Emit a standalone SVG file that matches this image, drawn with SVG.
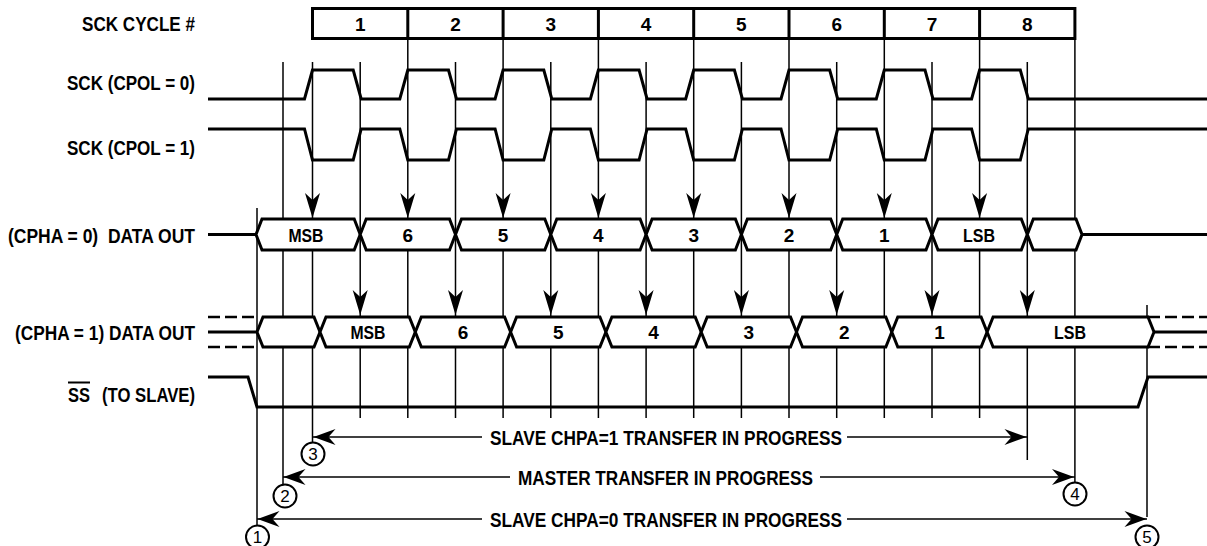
<svg xmlns="http://www.w3.org/2000/svg" xmlns:xlink="http://www.w3.org/1999/xlink" width="1207" height="546" viewBox="0 0 1207 546">
<defs>
<style>
.t{font-family:"Liberation Sans",Arial,sans-serif;font-weight:bold;font-size:20px;fill:#000}
.n{font-family:"Liberation Sans",Arial,sans-serif;font-weight:bold;font-size:19px;fill:#000;text-anchor:middle}
.c{font-family:"Liberation Sans",Arial,sans-serif;font-size:17px;fill:#000;text-anchor:middle}
.w{fill:none;stroke:#000;stroke-width:3;stroke-linejoin:miter}
.hx{fill:#fff;stroke:#000;stroke-width:3;stroke-linejoin:miter}
.d{fill:none;stroke:#000;stroke-width:2.5;stroke-dasharray:12 5}
.v{stroke:#000;stroke-width:1.5;fill:none}
.h{stroke:#000;stroke-width:1.4;fill:none}
.circ{fill:#fff;stroke:#000;stroke-width:2}
</style>
<path id="va" d="M0,0 L-7.5,-25 L0,-18 L7.5,-25 Z" fill="#000"/>
<path id="ha" d="M0,0 L-22,-8 L-15,0 L-22,8 Z" fill="#000"/>
</defs>
<rect width="1207" height="546" fill="#fff"/>

<g id="connectors">
<g id="timing-lines">
<line class="v" x1="257" y1="208" x2="257" y2="526"/>
<line class="v" x1="283" y1="62" x2="283" y2="485"/>
<line class="v" x1="312.5" y1="62" x2="312.5" y2="443"/>
<line class="v" x1="407.8" y1="38.5" x2="407.8" y2="418"/>
<line class="v" x1="503.1" y1="38.5" x2="503.1" y2="418"/>
<line class="v" x1="598.4" y1="38.5" x2="598.4" y2="418"/>
<line class="v" x1="693.7" y1="38.5" x2="693.7" y2="418"/>
<line class="v" x1="789" y1="38.5" x2="789" y2="418"/>
<line class="v" x1="884.3" y1="38.5" x2="884.3" y2="418"/>
<line class="v" x1="979.6" y1="38.5" x2="979.6" y2="418"/>
<line class="v" x1="1074.9" y1="38.5" x2="1074.9" y2="483"/>
<line class="v" x1="360.2" y1="62" x2="360.2" y2="418"/>
<line class="v" x1="455.5" y1="62" x2="455.5" y2="418"/>
<line class="v" x1="550.8" y1="62" x2="550.8" y2="418"/>
<line class="v" x1="646.1" y1="62" x2="646.1" y2="418"/>
<line class="v" x1="741.4" y1="62" x2="741.4" y2="418"/>
<line class="v" x1="836.7" y1="62" x2="836.7" y2="418"/>
<line class="v" x1="932" y1="62" x2="932" y2="418"/>
<line class="v" x1="1027.3" y1="62" x2="1027.3" y2="460"/>
<line class="v" x1="1147" y1="305" x2="1147" y2="517"/>
</g>
<g id="sample-arrows-cpha0">
<use xlink:href="#va" href="#va" transform="translate(312.5,218)"/>
<use xlink:href="#va" href="#va" transform="translate(407.8,218)"/>
<use xlink:href="#va" href="#va" transform="translate(503.1,218)"/>
<use xlink:href="#va" href="#va" transform="translate(598.4,218)"/>
<use xlink:href="#va" href="#va" transform="translate(693.7,218)"/>
<use xlink:href="#va" href="#va" transform="translate(789,218)"/>
<use xlink:href="#va" href="#va" transform="translate(884.3,218)"/>
<use xlink:href="#va" href="#va" transform="translate(979.6,218)"/>
</g>
<g id="sample-arrows-cpha1">
<use xlink:href="#va" href="#va" transform="translate(360.2,315)"/>
<use xlink:href="#va" href="#va" transform="translate(455.5,315)"/>
<use xlink:href="#va" href="#va" transform="translate(550.8,315)"/>
<use xlink:href="#va" href="#va" transform="translate(646.1,315)"/>
<use xlink:href="#va" href="#va" transform="translate(741.4,315)"/>
<use xlink:href="#va" href="#va" transform="translate(836.7,315)"/>
<use xlink:href="#va" href="#va" transform="translate(932,315)"/>
<use xlink:href="#va" href="#va" transform="translate(1027.3,315)"/>
</g>
<g id="span-slave-cpha1">
<line class="h" x1="313" y1="437" x2="482" y2="437"/>
<line class="h" x1="847" y1="437" x2="1027" y2="437"/>
<use xlink:href="#ha" href="#ha" transform="translate(313.5,437) scale(-1,1)"/>
<use xlink:href="#ha" href="#ha" transform="translate(1026.5,437)"/>
</g>
<g id="span-master">
<line class="h" x1="283" y1="477" x2="510" y2="477"/>
<line class="h" x1="820" y1="477" x2="1075" y2="477"/>
<use xlink:href="#ha" href="#ha" transform="translate(283.5,477) scale(-1,1)"/>
<use xlink:href="#ha" href="#ha" transform="translate(1074,477)"/>
</g>
<g id="span-slave-cpha0">
<line class="h" x1="257" y1="519" x2="482" y2="519"/>
<line class="h" x1="847" y1="519" x2="1147" y2="519"/>
<use xlink:href="#ha" href="#ha" transform="translate(257.5,519) scale(-1,1)"/>
<use xlink:href="#ha" href="#ha" transform="translate(1146.5,519)"/>
</g>
</g>

<g id="cycle-box">
<rect x="312.5" y="8.5" width="762.4" height="30" fill="none" stroke="#000" stroke-width="3"/>
<path d="M407.8,8.5V38.5M503.1,8.5V38.5M598.4,8.5V38.5M693.7,8.5V38.5M789,8.5V38.5M884.3,8.5V38.5M979.6,8.5V38.5" stroke="#000" stroke-width="3"/>
<text class="n" x="360.2" y="31">1</text>
<text class="n" x="455.5" y="31">2</text>
<text class="n" x="550.8" y="31">3</text>
<text class="n" x="646.1" y="31">4</text>
<text class="n" x="741.4" y="31">5</text>
<text class="n" x="836.7" y="31">6</text>
<text class="n" x="932" y="31">7</text>
<text class="n" x="1027.3" y="31">8</text>
</g>

<g id="sck-cpol0">
<path class="w" d="M208,99 H304.5 L312.5,70 H353.2 L361.2,99 H399.8 L407.8,70 H448.5 L456.5,99 H495.1 L503.1,70 H543.8 L551.8,99 H590.4 L598.4,70 H639.1 L647.1,99 H685.7 L693.7,70 H734.4 L742.4,99 H781 L789,70 H829.7 L837.7,99 H876.3 L884.3,70 H925 L933,99 H971.6 L979.6,70 H1020.3 L1028.3,99 H1207"/>
</g>
<g id="sck-cpol1">
<path class="w" d="M208,129 H304.5 L312.5,160 H353.2 L361.2,129 H399.8 L407.8,160 H448.5 L456.5,129 H495.1 L503.1,160 H543.8 L551.8,129 H590.4 L598.4,160 H639.1 L647.1,129 H685.7 L693.7,160 H734.4 L742.4,129 H781 L789,160 H829.7 L837.7,129 H876.3 L884.3,160 H925 L933,129 H971.6 L979.6,160 H1020.3 L1028.3,129 H1207"/>
</g>

<g id="data-cpha0">
<path class="w" d="M208,234.5 H256 M1082,234.5 H1207"/>
<polygon class="hx" points="256,234.5 262,219 354.2,219 360.2,234.5 354.2,250 262,250"/>
<polygon class="hx" points="360.2,234.5 366.2,219 449.5,219 455.5,234.5 449.5,250 366.2,250"/>
<polygon class="hx" points="455.5,234.5 461.5,219 544.8,219 550.8,234.5 544.8,250 461.5,250"/>
<polygon class="hx" points="550.8,234.5 556.8,219 640.1,219 646.1,234.5 640.1,250 556.8,250"/>
<polygon class="hx" points="646.1,234.5 652.1,219 735.4,219 741.4,234.5 735.4,250 652.1,250"/>
<polygon class="hx" points="741.4,234.5 747.4,219 830.7,219 836.7,234.5 830.7,250 747.4,250"/>
<polygon class="hx" points="836.7,234.5 842.7,219 926,219 932,234.5 926,250 842.7,250"/>
<polygon class="hx" points="932,234.5 938,219 1021.3,219 1027.3,234.5 1021.3,250 938,250"/>
<polygon class="hx" points="1027.3,234.5 1033.3,219 1076,219 1082,234.5 1076,250 1033.3,250"/>
<text class="n" x="306" y="241.5" textLength="35" lengthAdjust="spacingAndGlyphs">MSB</text>
<text class="n" x="407.8" y="241.5">6</text>
<text class="n" x="503.1" y="241.5">5</text>
<text class="n" x="598.4" y="241.5">4</text>
<text class="n" x="693.7" y="241.5">3</text>
<text class="n" x="789" y="241.5">2</text>
<text class="n" x="884.3" y="241.5">1</text>
<text class="n" x="979" y="241.5" textLength="32" lengthAdjust="spacingAndGlyphs">LSB</text>
</g>

<g id="data-cpha1">
<path class="w" d="M208,332 H257 M1154,332 H1207"/>
<path class="d" d="M208,317 H256 M208,347 H256 M1148,317 H1207 M1148,347 H1207"/>
<polygon class="hx" points="257,332 263,317 314,317 320,332 314,347 263,347"/>
<polygon class="hx" points="320,332 326,317 409.3,317 415.3,332 409.3,347 326,347"/>
<polygon class="hx" points="415.3,332 421.3,317 504.6,317 510.6,332 504.6,347 421.3,347"/>
<polygon class="hx" points="510.6,332 516.6,317 599.9,317 605.9,332 599.9,347 516.6,347"/>
<polygon class="hx" points="605.9,332 611.9,317 695.2,317 701.2,332 695.2,347 611.9,347"/>
<polygon class="hx" points="701.2,332 707.2,317 790.5,317 796.5,332 790.5,347 707.2,347"/>
<polygon class="hx" points="796.5,332 802.5,317 885.8,317 891.8,332 885.8,347 802.5,347"/>
<polygon class="hx" points="891.8,332 897.8,317 981.1,317 987.1,332 981.1,347 897.8,347"/>
<polygon class="hx" points="987.1,332 993.1,317 1148,317 1154,332 1148,347 993.1,347"/>
<text class="n" x="368" y="339" textLength="35" lengthAdjust="spacingAndGlyphs">MSB</text>
<text class="n" x="463" y="339">6</text>
<text class="n" x="558.3" y="339">5</text>
<text class="n" x="653.6" y="339">4</text>
<text class="n" x="748.9" y="339">3</text>
<text class="n" x="844.2" y="339">2</text>
<text class="n" x="939.5" y="339">1</text>
<text class="n" x="1070" y="339" textLength="32" lengthAdjust="spacingAndGlyphs">LSB</text>
</g>

<g id="ss">
<path class="w" d="M208,377 H248 L257,407 H1138 L1148,377 H1207"/>
</g>

<g id="row-labels">
<text class="t" x="82" y="30.5" textLength="113" lengthAdjust="spacingAndGlyphs">SCK CYCLE #</text>
<text class="t" x="67" y="89.5" textLength="128" lengthAdjust="spacingAndGlyphs">SCK (CPOL = 0)</text>
<text class="t" x="67" y="154.5" textLength="128" lengthAdjust="spacingAndGlyphs">SCK (CPOL = 1)</text>
<text class="t" x="8" y="242.5" textLength="187" lengthAdjust="spacingAndGlyphs" xml:space="preserve">(CPHA = 0)  DATA OUT</text>
<text class="t" x="15" y="339.5" textLength="180" lengthAdjust="spacingAndGlyphs">(CPHA = 1) DATA OUT</text>
<text class="t" x="68" y="401.5" textLength="22" lengthAdjust="spacingAndGlyphs" text-decoration="overline">SS</text>
<text class="t" x="102" y="401.5" textLength="93" lengthAdjust="spacingAndGlyphs">(TO SLAVE)</text>
</g>

<g id="span-labels">
<text class="t" x="490" y="444.5" textLength="352" lengthAdjust="spacingAndGlyphs">SLAVE CHPA=1 TRANSFER IN PROGRESS</text>
<text class="t" x="518" y="484.5" textLength="295" lengthAdjust="spacingAndGlyphs">MASTER TRANSFER IN PROGRESS</text>
<text class="t" x="490" y="526.5" textLength="352" lengthAdjust="spacingAndGlyphs">SLAVE CHPA=0 TRANSFER IN PROGRESS</text>
</g>

<g id="marker-1"><circle class="circ" cx="257.5" cy="537" r="11.5"/><text class="c" x="257.5" y="543">1</text></g>
<g id="marker-2"><circle class="circ" cx="285" cy="496" r="11.5"/><text class="c" x="285" y="502">2</text></g>
<g id="marker-3"><circle class="circ" cx="313" cy="454" r="11.5"/><text class="c" x="313" y="460">3</text></g>
<g id="marker-4"><circle class="circ" cx="1075" cy="494" r="11.5"/><text class="c" x="1075" y="500">4</text></g>
<g id="marker-5"><circle class="circ" cx="1147" cy="537" r="11.5"/><text class="c" x="1147" y="543">5</text></g>
</svg>
